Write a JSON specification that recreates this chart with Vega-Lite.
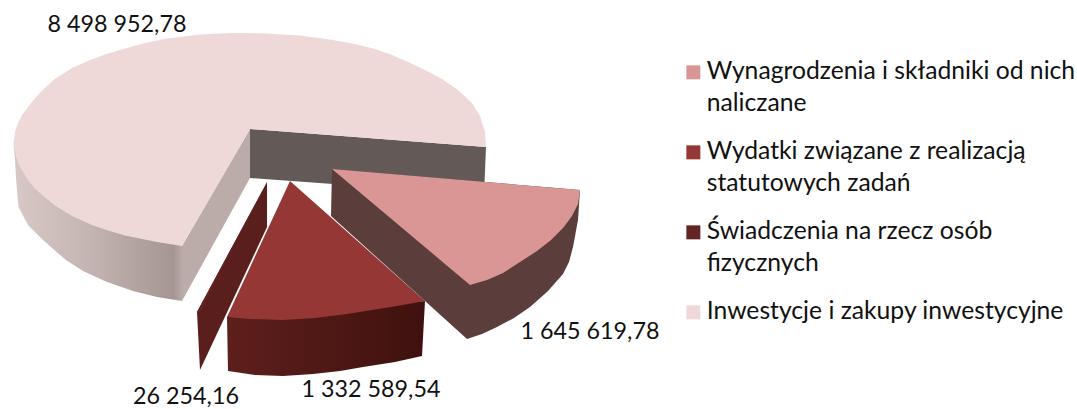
{"$schema":"https://vega.github.io/schema/vega-lite/v6.json","width":1077,"height":409,"padding":0,"autosize":"none","background":"white","config":{"view":{"stroke":null},"style":{"guide-label":{"lineHeight":32}}},
"datasets":{
"labels":[{"slice":"Inwestycje","value":8498952.78,"text":"8 498 952,78","x":117,"y":25},{"slice":"Wynagrodzenia","value":1645619.78,"text":"1 645 619,78","x":590,"y":332},{"slice":"Wydatki","value":1332589.54,"text":"1 332 589,54","x":371,"y":390},{"slice":"Świadczenia","value":26254.16,"text":"26 254,16","x":186,"y":397}],
"poly":[
{"face":"bigouter","i":1,"x":13.5,"y":143},{"face":"bigouter","i":2,"x":15,"y":160},{"face":"bigouter","i":3,"x":16,"y":178},{"face":"bigouter","i":4,"x":17,"y":190},{"face":"bigouter","i":5,"x":18.5,"y":207},{"face":"bigouter","i":6,"x":28,"y":225},{"face":"bigouter","i":7,"x":42,"y":239},{"face":"bigouter","i":8,"x":52,"y":248},{"face":"bigouter","i":9,"x":66,"y":260},{"face":"bigouter","i":10,"x":83,"y":271},{"face":"bigouter","i":11,"x":107,"y":282},{"face":"bigouter","i":12,"x":133,"y":291},{"face":"bigouter","i":13,"x":157,"y":297},{"face":"bigouter","i":14,"x":182,"y":301},{"face":"bigouter","i":15,"x":182,"y":246},{"face":"bigouter","i":16,"x":100,"y":215},{"face":"bigouter","i":17,"x":50,"y":180},
{"face":"bigleft","i":1,"x":250,"y":129},{"face":"bigleft","i":2,"x":250,"y":178},{"face":"bigleft","i":3,"x":182,"y":301},{"face":"bigleft","i":4,"x":182,"y":246},
{"face":"bigright","i":1,"x":250,"y":129},{"face":"bigright","i":2,"x":486,"y":147},{"face":"bigright","i":3,"x":484,"y":195},{"face":"bigright","i":4,"x":250,"y":178},
{"face":"bigtop","slice":"Inwestycje i zakupy inwestycyjne","i":1,"x":250,"y":129},{"face":"bigtop","slice":"Inwestycje i zakupy inwestycyjne","i":2,"x":182,"y":246},{"face":"bigtop","slice":"Inwestycje i zakupy inwestycyjne","i":3,"x":157,"y":242},{"face":"bigtop","slice":"Inwestycje i zakupy inwestycyjne","i":4,"x":125,"y":235.5},{"face":"bigtop","slice":"Inwestycje i zakupy inwestycyjne","i":5,"x":108,"y":230.5},{"face":"bigtop","slice":"Inwestycje i zakupy inwestycyjne","i":6,"x":92,"y":225},{"face":"bigtop","slice":"Inwestycje i zakupy inwestycyjne","i":7,"x":72,"y":216},{"face":"bigtop","slice":"Inwestycje i zakupy inwestycyjne","i":8,"x":55,"y":205.5},{"face":"bigtop","slice":"Inwestycje i zakupy inwestycyjne","i":9,"x":42,"y":195},{"face":"bigtop","slice":"Inwestycje i zakupy inwestycyjne","i":10,"x":34,"y":187.5},{"face":"bigtop","slice":"Inwestycje i zakupy inwestycyjne","i":11,"x":28,"y":180},{"face":"bigtop","slice":"Inwestycje i zakupy inwestycyjne","i":12,"x":20,"y":167},{"face":"bigtop","slice":"Inwestycje i zakupy inwestycyjne","i":13,"x":15.5,"y":155},{"face":"bigtop","slice":"Inwestycje i zakupy inwestycyjne","i":14,"x":13.5,"y":143},{"face":"bigtop","slice":"Inwestycje i zakupy inwestycyjne","i":15,"x":15,"y":132},{"face":"bigtop","slice":"Inwestycje i zakupy inwestycyjne","i":16,"x":18,"y":123},{"face":"bigtop","slice":"Inwestycje i zakupy inwestycyjne","i":17,"x":22,"y":115},{"face":"bigtop","slice":"Inwestycje i zakupy inwestycyjne","i":18,"x":32,"y":102},{"face":"bigtop","slice":"Inwestycje i zakupy inwestycyjne","i":19,"x":42,"y":90.5},{"face":"bigtop","slice":"Inwestycje i zakupy inwestycyjne","i":20,"x":55,"y":79},{"face":"bigtop","slice":"Inwestycje i zakupy inwestycyjne","i":21,"x":72,"y":68},{"face":"bigtop","slice":"Inwestycje i zakupy inwestycyjne","i":22,"x":88,"y":61},{"face":"bigtop","slice":"Inwestycje i zakupy inwestycyjne","i":23,"x":105,"y":54.5},{"face":"bigtop","slice":"Inwestycje i zakupy inwestycyjne","i":24,"x":125,"y":48.5},{"face":"bigtop","slice":"Inwestycje i zakupy inwestycyjne","i":25,"x":145,"y":43},{"face":"bigtop","slice":"Inwestycje i zakupy inwestycyjne","i":26,"x":167,"y":38.5},{"face":"bigtop","slice":"Inwestycje i zakupy inwestycyjne","i":27,"x":200,"y":34.5},{"face":"bigtop","slice":"Inwestycje i zakupy inwestycyjne","i":28,"x":233,"y":33},{"face":"bigtop","slice":"Inwestycje i zakupy inwestycyjne","i":29,"x":265,"y":33.5},{"face":"bigtop","slice":"Inwestycje i zakupy inwestycyjne","i":30,"x":300,"y":35.5},{"face":"bigtop","slice":"Inwestycje i zakupy inwestycyjne","i":31,"x":333,"y":40},{"face":"bigtop","slice":"Inwestycje i zakupy inwestycyjne","i":32,"x":355,"y":44},{"face":"bigtop","slice":"Inwestycje i zakupy inwestycyjne","i":33,"x":375,"y":49},{"face":"bigtop","slice":"Inwestycje i zakupy inwestycyjne","i":34,"x":392,"y":55},{"face":"bigtop","slice":"Inwestycje i zakupy inwestycyjne","i":35,"x":408,"y":62},{"face":"bigtop","slice":"Inwestycje i zakupy inwestycyjne","i":36,"x":425,"y":70},{"face":"bigtop","slice":"Inwestycje i zakupy inwestycyjne","i":37,"x":442,"y":79},{"face":"bigtop","slice":"Inwestycje i zakupy inwestycyjne","i":38,"x":458,"y":90},{"face":"bigtop","slice":"Inwestycje i zakupy inwestycyjne","i":39,"x":472,"y":103},{"face":"bigtop","slice":"Inwestycje i zakupy inwestycyjne","i":40,"x":480,"y":116},{"face":"bigtop","slice":"Inwestycje i zakupy inwestycyjne","i":41,"x":485,"y":132},{"face":"bigtop","slice":"Inwestycje i zakupy inwestycyjne","i":42,"x":486,"y":147},
{"face":"thinside","i":1,"x":267,"y":182},{"face":"thinside","i":2,"x":267,"y":227},{"face":"thinside","i":3,"x":200,"y":370},{"face":"thinside","i":4,"x":197,"y":312},
{"face":"thintop","slice":"Świadczenia na rzecz osób fizycznych","i":1,"x":267,"y":182},{"face":"thintop","slice":"Świadczenia na rzecz osób fizycznych","i":2,"x":197,"y":312},{"face":"thintop","slice":"Świadczenia na rzecz osób fizycznych","i":3,"x":199,"y":313},
{"face":"redside","i":1,"x":227,"y":317},{"face":"redside","i":2,"x":228,"y":371},{"face":"redside","i":3,"x":255,"y":375},{"face":"redside","i":4,"x":283,"y":376},{"face":"redside","i":5,"x":313,"y":374},{"face":"redside","i":6,"x":340,"y":371},{"face":"redside","i":7,"x":363,"y":367},{"face":"redside","i":8,"x":395,"y":362},{"face":"redside","i":9,"x":422,"y":356},{"face":"redside","i":10,"x":425,"y":301},
{"face":"redtop","slice":"Wydatki związane z realizacją statutowych zadań","i":1,"x":290,"y":181},{"face":"redtop","slice":"Wydatki związane z realizacją statutowych zadań","i":2,"x":227,"y":317},{"face":"redtop","slice":"Wydatki związane z realizacją statutowych zadań","i":3,"x":250,"y":319},{"face":"redtop","slice":"Wydatki związane z realizacją statutowych zadań","i":4,"x":283,"y":320},{"face":"redtop","slice":"Wydatki związane z realizacją statutowych zadań","i":5,"x":315,"y":318},{"face":"redtop","slice":"Wydatki związane z realizacją statutowych zadań","i":6,"x":347,"y":314},{"face":"redtop","slice":"Wydatki związane z realizacją statutowych zadań","i":7,"x":372,"y":310},{"face":"redtop","slice":"Wydatki związane z realizacją statutowych zadań","i":8,"x":397,"y":306},{"face":"redtop","slice":"Wydatki związane z realizacją statutowych zadań","i":9,"x":425,"y":301},
{"face":"pinkside","i":1,"x":332,"y":169},{"face":"pinkside","i":2,"x":331,"y":216},{"face":"pinkside","i":3,"x":467,"y":339},{"face":"pinkside","i":4,"x":482,"y":334},{"face":"pinkside","i":5,"x":497,"y":327},{"face":"pinkside","i":6,"x":514,"y":318},{"face":"pinkside","i":7,"x":530,"y":307},{"face":"pinkside","i":8,"x":548,"y":291},{"face":"pinkside","i":9,"x":563,"y":274},{"face":"pinkside","i":10,"x":569,"y":262},{"face":"pinkside","i":11,"x":573,"y":247},{"face":"pinkside","i":12,"x":578,"y":220},{"face":"pinkside","i":13,"x":580,"y":190},
{"face":"pinktop","slice":"Wynagrodzenia i składniki od nich naliczane","i":1,"x":332,"y":169},{"face":"pinktop","slice":"Wynagrodzenia i składniki od nich naliczane","i":2,"x":470,"y":285},{"face":"pinktop","slice":"Wynagrodzenia i składniki od nich naliczane","i":3,"x":487,"y":280},{"face":"pinktop","slice":"Wynagrodzenia i składniki od nich naliczane","i":4,"x":503,"y":273},{"face":"pinktop","slice":"Wynagrodzenia i składniki od nich naliczane","i":5,"x":520,"y":262},{"face":"pinktop","slice":"Wynagrodzenia i składniki od nich naliczane","i":6,"x":537,"y":251},{"face":"pinktop","slice":"Wynagrodzenia i składniki od nich naliczane","i":7,"x":551,"y":240},{"face":"pinktop","slice":"Wynagrodzenia i składniki od nich naliczane","i":8,"x":563,"y":228},{"face":"pinktop","slice":"Wynagrodzenia i składniki od nich naliczane","i":9,"x":572,"y":216},{"face":"pinktop","slice":"Wynagrodzenia i składniki od nich naliczane","i":10,"x":578,"y":204},{"face":"pinktop","slice":"Wynagrodzenia i składniki od nich naliczane","i":11,"x":580,"y":190}
]},
"encoding":{"x":{"field":"x","type":"quantitative","scale":{"domain":[0,1077]},"axis":null},"y":{"field":"y","type":"quantitative","scale":{"domain":[409,0]},"axis":null},"order":{"field":"i","type":"quantitative"}},
"layer":[
{"data":{"name":"poly"},"transform":[{"filter":"datum.face=='bigouter'"}],"mark":{"type":"line","filled":true,"strokeWidth":0,"fill":{"gradient":"linear","x1":0,"x2":1,"y1":0,"y2":0,"stops":[{"offset":0,"color":"#d8c8c6"},{"offset":0.45,"color":"#c4b4b2"},{"offset":0.95,"color":"#a59694"},{"offset":1,"color":"#b8a9a7"}]}}},
{"data":{"name":"poly"},"transform":[{"filter":"datum.face=='bigleft'"}],"mark":{"type":"line","filled":true,"strokeWidth":0,"fill":"#bbaba9"}},
{"data":{"name":"poly"},"transform":[{"filter":"datum.face=='bigright'"}],"mark":{"type":"line","filled":true,"strokeWidth":0,"fill":"#635a58"}},
{"data":{"name":"poly"},"transform":[{"filter":"datum.face=='bigtop'"}],"mark":{"type":"line","filled":true,"strokeWidth":0},"encoding":{"color":{"field":"slice","type":"nominal","scale":{"domain":["Wynagrodzenia i składniki od nich naliczane","Wydatki związane z realizacją statutowych zadań","Świadczenia na rzecz osób fizycznych","Inwestycje i zakupy inwestycyjne"],"range":["#d99694","#953735","#632523","#eed9d8"]},"legend":{"title":null,"orient":"none","legendX":681,"legendY":60,"symbolType":"square","symbolSize":196,"symbolStrokeWidth":0,"labelFont":"Lato","labelFontSize":24.7,"labelColor":"#111111","labelLimit":400,"labelOffset":1,"rowPadding":22,"labelExpr":"datum.label=='Wynagrodzenia i składniki od nich naliczane'?['Wynagrodzenia i składniki od nich','naliczane']:datum.label=='Wydatki związane z realizacją statutowych zadań'?['Wydatki związane z realizacją','statutowych zadań']:datum.label=='Świadczenia na rzecz osób fizycznych'?['Świadczenia na rzecz osób','fizycznych']:datum.label"}}}},
{"data":{"name":"poly"},"transform":[{"filter":"datum.face=='thinside'"}],"mark":{"type":"line","filled":true,"strokeWidth":0,"fill":"#5a1f1c"}},
{"data":{"name":"poly"},"transform":[{"filter":"datum.face=='thintop'"}],"mark":{"type":"line","filled":true,"strokeWidth":0},"encoding":{"color":{"field":"slice","type":"nominal"}}},
{"data":{"name":"poly"},"transform":[{"filter":"datum.face=='redside'"}],"mark":{"type":"line","filled":true,"strokeWidth":0,"fill":{"gradient":"linear","x1":0,"x2":1,"y1":0,"y2":0,"stops":[{"offset":0,"color":"#5e1f1c"},{"offset":1,"color":"#3f110e"}]}}},
{"data":{"name":"poly"},"transform":[{"filter":"datum.face=='redtop'"}],"mark":{"type":"line","filled":true,"strokeWidth":0},"encoding":{"color":{"field":"slice","type":"nominal"}}},
{"data":{"name":"poly"},"transform":[{"filter":"datum.face=='pinkside'"}],"mark":{"type":"line","filled":true,"strokeWidth":0,"fill":"#5b3e3c"}},
{"data":{"name":"poly"},"transform":[{"filter":"datum.face=='pinktop'"}],"mark":{"type":"line","filled":true,"strokeWidth":0},"encoding":{"color":{"field":"slice","type":"nominal"}}},
{"data":{"name":"labels"},"mark":{"type":"text","font":"Lato","fontSize":23.3,"color":"#111111","align":"center","baseline":"middle"},"encoding":{"text":{"field":"text"},"order":null}}
]}
